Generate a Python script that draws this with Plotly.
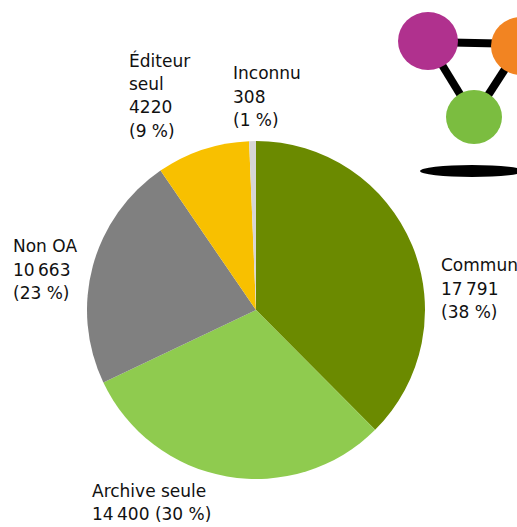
import plotly.graph_objects as go

categories = ["Commun", "Archive seule", "Non OA", "Éditeur seul", "Inconnu"]
values = [17791, 14400, 10663, 4220, 308]
colors = ["#6b8a00", "#8fcb4f", "#808080", "#f8c000", "#d6d6d6"]

W, H = 517, 527
total = sum(values)

def fmt(n):
    return f"{n:,}".replace(",", "\u2009")

def pct(n):
    return f"({round(100 * n / total)}\u00a0%)"

label_lines = {
    "Commun": ["Commun", fmt(values[0]), pct(values[0])],
    "Archive seule": ["Archive seule", f"{fmt(values[1])} {pct(values[1])}"],
    "Non OA": ["Non OA", fmt(values[2]), pct(values[2])],
    "Éditeur seul": ["Éditeur", "seul", str(values[3]), pct(values[3])],
    "Inconnu": ["Inconnu", str(values[4]), pct(values[4])],
}
label_pos = {
    "Commun": (439, 265),
    "Archive seule": (90, 491),
    "Non OA": (11, 246),
    "Éditeur seul": (127, 60),
    "Inconnu": (231, 73),
}
LINE_STEP = 23.6

def px(x):
    return x / W

def py(y):
    return 1 - y / H

fig = go.Figure(go.Pie(
    labels=categories,
    values=values,
    sort=False,
    direction="clockwise",
    rotation=0,
    marker=dict(colors=colors, line=dict(width=0)),
    textinfo="none",
    hoverinfo="label+value+percent",
    domain=dict(x=[px(87), px(425)], y=[py(479), py(141)]),
))

font = dict(family="'DejaVu Sans', sans-serif", size=17, color="#111111")
annotations = []
for cat in categories:
    x, y = label_pos[cat]
    step = 22.5 if cat == "Archive seule" else LINE_STEP
    for i, t in enumerate(label_lines[cat]):
        annotations.append(dict(
            x=px(x), y=py(y + i * step), xref="paper", yref="paper",
            xanchor="left", yanchor="middle", align="left",
            text=t, showarrow=False, font=font,
        ))

shapes = []
def line(x0, y0, x1, y1, w=8):
    shapes.append(dict(type="line", xref="paper", yref="paper",
                       x0=px(x0), y0=py(y0), x1=px(x1), y1=py(y1),
                       line=dict(color="black", width=w)))

def circ(cx, cy, rx, ry, color):
    shapes.append(dict(type="circle", xref="paper", yref="paper",
                       x0=px(cx - rx), x1=px(cx + rx), y0=py(cy + ry), y1=py(cy - ry),
                       fillcolor=color, line=dict(width=0)))

# logo
line(428, 42, 520, 44)
line(428, 42, 474, 117)
line(520, 46, 474, 117)
circ(428, 41, 30, 29, "#b0318e")
circ(521, 46, 30, 29, "#f28422")
circ(474, 117, 28, 27, "#7bbd40")
circ(472, 171, 52, 6, "black")

fig.update_layout(
    width=W, height=H,
    margin=dict(l=0, r=0, t=0, b=0),
    paper_bgcolor="white", plot_bgcolor="white",
    showlegend=False,
    annotations=annotations,
    shapes=shapes,
)

fig.write_html("out.html")
